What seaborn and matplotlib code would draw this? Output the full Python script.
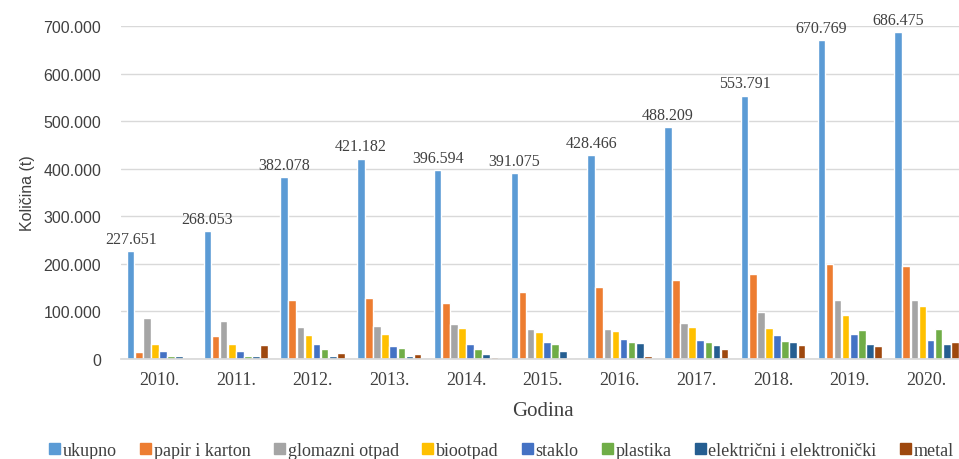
"""
Kolicine otpada po vrstama, 2010.-2020.
"""

import numpy as np
import pandas as pd
import matplotlib
matplotlib.use('Agg')
import matplotlib.pyplot as plt
import seaborn as sns
from matplotlib.ticker import FuncFormatter

sns.set_theme(style='white')

# Podaci (ocitano sa grafikona)
godine = ['2010.', '2011.', '2012.', '2013.', '2014.', '2015.',
          '2016.', '2017.', '2018.', '2019.', '2020.']
ukupno = [227651, 268053, 382078, 421182, 396594, 391075,
          428466, 488209, 553791, 670769, 686475]
papir_i_karton = [15000, 48000, 123000, 128000, 117000, 141000,
                  152000, 165000, 179000, 200000, 195000]
glomazni_otpad = [86000, 79000, 67000, 70000, 73000, 62000,
                  62000, 76000, 98000, 125000, 125000]
biootpad = [32000, 32000, 51000, 53000, 66000, 56000,
            58000, 67000, 65000, 92000, 111000]
staklo = [16000, 16000, 32000, 28000, 31000, 36000,
          41000, 39000, 50000, 53000, 39000]
plastika = [7000, 7000, 21000, 24000, 22000, 31000,
            36000, 36000, 38000, 60000, 63000]
elektricni = [7000, 7000, 7000, 6000, 11000, 17000,
              33000, 30000, 35000, 32000, 32000]
metal = [0, 30000, 13000, 11000, 5000, 0,
         7000, 21000, 30000, 28000, 35000]

vrste = ['ukupno', 'papir i karton', 'glomazni otpad', 'biootpad',
         'staklo', 'plastika', 'električni i elektronički', 'metal']
boje = ['#5B9BD5', '#ED7D31', '#A5A5A5', '#FFC000',
        '#4472C4', '#70AD47', '#255E91', '#9E480E']

serije = [ukupno, papir_i_karton, glomazni_otpad, biootpad,
          staklo, plastika, elektricni, metal]

# Long format za seaborn
redovi = []
for vrsta, vrijednosti in zip(vrste, serije):
    for g, v in zip(godine, vrijednosti):
        redovi.append({'Godina': g, 'Kolicina': v, 'Vrsta': vrsta})
df = pd.DataFrame(redovi)

fig = plt.figure(figsize=(9.59, 4.6), dpi=100)
ax = fig.add_axes([0.1258, 0.2174, 0.8803, 0.724])

sns.barplot(data=df, x='Godina', y='Kolicina', hue='Vrsta',
            hue_order=vrste, palette=boje, width=0.845, gap=0.06,
            saturation=1, ax=ax, legend=False)

ax.set_ylim(0, 700000)
ax.set_yticks(np.arange(0, 700001, 100000))
ax.yaxis.set_major_formatter(
    FuncFormatter(lambda v, p: f"{int(v):,}".replace(',', '.')))
ax.grid(True, axis='y', color='#d9d9d9', linewidth=1)
ax.set_axisbelow(True)
for s in ['left', 'right', 'top']:
    ax.spines[s].set_visible(False)
ax.spines['bottom'].set_color('#d9d9d9')
ax.tick_params(axis='both', length=0)
ax.tick_params(axis='y', pad=14)
ax.tick_params(axis='x', pad=9)

for lbl in ax.get_yticklabels():
    lbl.set_fontfamily('Liberation Sans')
    lbl.set_fontsize(11.5)
    lbl.set_color('#404040')
for lbl in ax.get_xticklabels():
    lbl.set_fontfamily('Liberation Serif')
    lbl.set_fontsize(13)
    lbl.set_color('#404040')

ax.set_ylabel('Količina (t)', family='Liberation Sans', fontsize=11.5,
              color='#404040', labelpad=6)
ax.set_xlabel('Godina', family='Liberation Serif', fontsize=15,
              color='#404040', labelpad=9)

# Oznake ukupnih kolicina
oznake = [f"{v:,}".replace(',', '.') for v in ukupno]
ax.bar_label(ax.containers[0], labels=oznake, padding=3,
             family='Liberation Serif', fontsize=11.5, color='#404040')

# Legenda
rucke = [plt.Rectangle((0, 0), 1, 1, color=c) for c in boje]
fig.legend(rucke, vrste, loc='lower center', bbox_to_anchor=(0.523, -0.035),
           ncol=8, frameon=False, handlelength=0.6, handleheight=0.6,
           handletextpad=0.15, columnspacing=1.3,
           prop={'family': 'Liberation Serif', 'size': 13})
for t in fig.legends[0].get_texts():
    t.set_color('#404040')

fig.savefig('out.png', dpi=100)
